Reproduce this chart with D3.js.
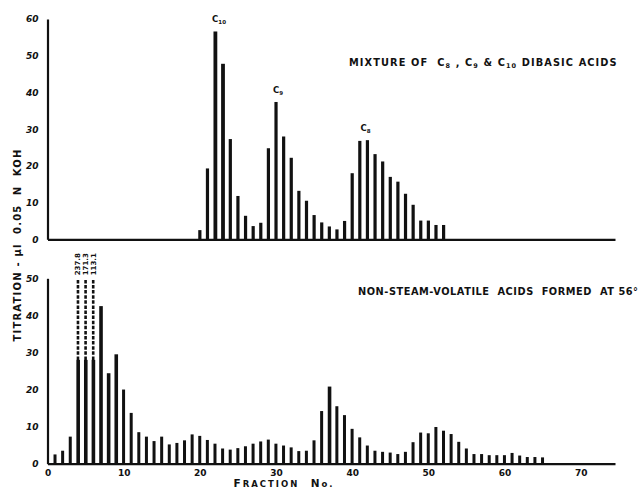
<!DOCTYPE html>
<html>
<head>
<meta charset="utf-8">
<script src="https://cdn.jsdelivr.net/npm/d3@7"></script>
<style>
  html, body { margin: 0; padding: 0; background: #fff; }
  svg { display: block; }
  text { font-family: "DejaVu Sans", "Liberation Sans", sans-serif; fill: #111; white-space: pre; }
</style>
</head>
<body>
<svg id="chart" width="642" height="491"></svg>
<script>
// ---------- DATA ----------
const topFractions = d3.range(20, 53);
const topValues = [2.5, 19.3, 56.6, 47.8, 27.3, 11.8, 6.4, 3.6, 4.5, 24.8, 37.4, 28, 22.2, 13.2, 10.5, 6.6,
                   4.6, 3.5, 2.7, 5.0, 18, 26.8, 27, 23.2, 21.2, 17, 15.7, 12.4, 9.4, 5.1, 5.1, 3.9, 3.9];
const topPeakLabels = [{f: 22, base: "C", sub: "10"}, {f: 30, base: "C", sub: "9"}, {f: 41.5, base: "C", sub: "8"}];
const topPeakHeights = [56.6, 37.4, 27];

const bottomFractions = d3.range(1, 66);
const bottomValues = [2.5, 3.5, 7.3, 237.8, 171.3, 113.1, 42.5, 24.4, 29.5, 20, 13.7, 8.5, 7.3, 6.1, 7.3, 5.2,
                      5.6, 6.3, 7.9, 7.5, 6.4, 5.4, 4.1, 3.8, 4.2, 4.7, 5.4, 6, 6.5, 5.4, 4.9, 4.4, 3.4, 3.5,
                      6.3, 14.2, 20.8, 15.5, 13.1, 9.4, 7.1, 4.9, 3.5, 3.2, 3.0, 2.6, 3.2, 5.8, 8.4, 8.2, 9.9,
                      8.9, 8.0, 5.9, 4.1, 2.6, 2.6, 2.3, 2.3, 2.3, 2.9, 2.2, 1.8, 1.8, 1.7];
const bottomCap = 50;        // broken bars are drawn up to the top of the axis
const bottomBreak = 28;      // solid part of broken bars, dashed above

const topYTicks = [0, 10, 20, 30, 40, 50, 60];
const bottomYTicks = [0, 10, 20, 30, 40, 50];
const xTicks = [0, 10, 20, 30, 40, 50, 60, 70];

const topTitle = ["MIXTURE OF  C", "8", " , C", "9", " & C", "10", " DIBASIC ACIDS"];
const bottomTitle = "NON-STEAM-VOLATILE  ACIDS  FORMED  AT 56°";
const yLabel = "TITRATION - µl  0.05  N  KOH";

// ---------- LAYOUT ----------
const svg = d3.select("#chart");
const x = d3.scaleLinear().domain([0, 74.5]).range([47.5, 615]);
const yTop = d3.scaleLinear().domain([0, 60]).range([239.3, 19]);
const yBot = d3.scaleLinear().domain([0, 50]).range([463.7, 278.3]);

function drawAxes(y, ticks, showX) {
  const g = svg.append("g");
  const ya = d3.axisLeft(y).tickValues(ticks).tickSize(0).tickPadding(9).tickFormat(d3.format("d"));
  const yg = g.append("g").attr("transform", `translate(${x(0)},0)`).call(ya);
  yg.select(".domain").attr("stroke", "#111").attr("stroke-width", 2.2);
  yg.selectAll("text").attr("font-size", 9).attr("font-weight", "bold").attr("font-style", "italic");
  const xa = d3.axisBottom(x).tickValues(showX ? xTicks : []).tickSize(0).tickPadding(6).tickFormat(d3.format("d"));
  const xg = g.append("g").attr("transform", `translate(0,${y(0)})`).call(xa);
  xg.select(".domain").attr("stroke", "#111").attr("stroke-width", 2.2);
  xg.selectAll("text").attr("font-size", 9).attr("font-weight", "bold");
}
drawAxes(yTop, topYTicks, false);
drawAxes(yBot, bottomYTicks, true);

// ---------- TOP BARS ----------
const topData = topFractions.map((f, i) => ({f, v: topValues[i]}));
svg.append("g").selectAll("rect").data(topData).join("rect")
  .attr("x", d => x(d.f) - 1.6)
  .attr("width", d => d.v > 40 ? 3.8 : 3.2)
  .attr("y", d => yTop(d.v))
  .attr("height", d => yTop(0) - yTop(d.v))
  .attr("fill", "#111");

const pk = svg.append("g");
topPeakLabels.forEach((p, i) => {
  const t = pk.append("text")
    .attr("x", x(p.f) - 3)
    .attr("y", yTop(topPeakHeights[i]) - 9)
    .attr("font-size", 8.5).attr("font-weight", "bold");
  t.append("tspan").text(p.base);
  t.append("tspan").text(p.sub).attr("font-size", 5.5).attr("dy", 2);
});

const tt = svg.append("text").attr("x", 349).attr("y", 66)
  .attr("font-size", 9.8).attr("font-weight", "bold").attr("letter-spacing", 1.1);
topTitle.forEach((s, i) => {
  const ts = tt.append("tspan").text(s);
  if (i % 2 === 1) ts.attr("font-size", 6.5).attr("dy", 2);
  else if (i > 0) ts.attr("dy", -2);
});

// ---------- BOTTOM BARS ----------
const botData = bottomFractions.map((f, i) => ({f, v: bottomValues[i]}));
const bg = svg.append("g");
bg.selectAll("rect").data(botData).join("rect")
  .attr("x", d => x(d.f) - 1.6)
  .attr("width", d => d.v > 20 ? 3.6 : 3.0)
  .attr("y", d => yBot(d.v > bottomCap ? bottomBreak : d.v))
  .attr("height", d => yBot(0) - yBot(d.v > bottomCap ? bottomBreak : d.v))
  .attr("fill", "#111");

const broken = botData.filter(d => d.v > bottomCap);
bg.selectAll("line.dash").data(broken).join("line")
  .attr("class", "dash")
  .attr("x1", d => x(d.f)).attr("x2", d => x(d.f))
  .attr("y1", yBot(bottomBreak)).attr("y2", yBot(bottomCap))
  .attr("stroke", "#111").attr("stroke-width", 2.6)
  .attr("stroke-dasharray", "3.5,1.6");

bg.selectAll("text.val").data(broken).join("text")
  .attr("class", "val")
  .attr("transform", d => `translate(${x(d.f) + 2.5},${yBot(bottomCap) - 3}) rotate(-90)`)
  .attr("font-size", 7).attr("font-weight", "bold")
  .text(d => d3.format(".1f")(d.v));

svg.append("text").attr("x", 358).attr("y", 295)
  .attr("font-size", 9.8).attr("font-weight", "bold")
  .attr("textLength", 280).attr("lengthAdjust", "spacing")
  .text(bottomTitle);

// ---------- AXIS LABELS ----------
svg.append("text")
  .attr("transform", "translate(21,245) rotate(-90)")
  .attr("text-anchor", "middle")
  .attr("font-size", 10).attr("font-weight", "bold").attr("letter-spacing", 1.2)
  .text(yLabel);

const xl = svg.append("text").attr("x", 284).attr("y", 487).attr("text-anchor", "middle")
  .attr("font-size", 10.5).attr("font-weight", "bold").attr("letter-spacing", 2);
xl.append("tspan").text("F");
xl.append("tspan").text("RACTION").attr("font-size", 8.5);
xl.append("tspan").text("  N");
xl.append("tspan").text("o.").attr("font-size", 8.5);
</script>
</body>
</html>
